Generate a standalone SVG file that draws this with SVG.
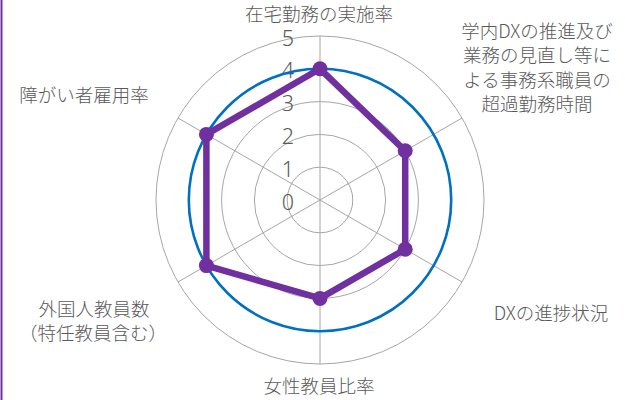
<svg xmlns="http://www.w3.org/2000/svg" width="625" height="400" viewBox="0 0 625 400">
<style>
.grid{fill:none;stroke:#A6A6A6;stroke-width:1}
.lbl{font-family:"Noto Sans CJK JP","Noto Sans",sans-serif;font-size:18.5px;font-weight:300;fill:#595959;text-anchor:middle}
.tick{font-family:"Noto Sans","Liberation Sans",sans-serif;font-size:21.5px;font-weight:300;fill:#595959;text-anchor:end}
</style>
<rect x="0" y="0" width="625" height="400" fill="#FFFFFF"/>
<line x1="1.5" y1="0" x2="1.5" y2="400" stroke="#7030A0" stroke-width="2"/>
<g id="grid">
<circle class="grid" cx="320" cy="200" r="32.8"/>
<circle class="grid" cx="320" cy="200" r="65.6"/>
<circle class="grid" cx="320" cy="200" r="98.4"/>
<circle class="grid" cx="320" cy="200" r="131.2"/>
<circle class="grid" cx="320" cy="200" r="164"/>
<line class="grid" x1="320" y1="200" x2="320" y2="36"/>
<line class="grid" x1="320" y1="200" x2="462" y2="118"/>
<line class="grid" x1="320" y1="200" x2="462" y2="282"/>
<line class="grid" x1="320" y1="200" x2="320" y2="364"/>
<line class="grid" x1="320" y1="200" x2="178" y2="282"/>
<line class="grid" x1="320" y1="200" x2="178" y2="118"/>
</g>
<g id="ticks">
<text class="tick" x="294" y="209.5">0</text>
<text class="tick" x="294" y="176.7">1</text>
<text class="tick" x="294" y="143.9">2</text>
<text class="tick" x="294" y="111.1">3</text>
<text class="tick" x="294" y="78.3">4</text>
<text class="tick" x="294" y="45.5">5</text>
</g>
<g id="target">
<circle cx="320" cy="200" r="131.2" fill="none" stroke="#0070C0" stroke-width="2.6"/>
</g>
<g id="connectors">
<polygon points="320,68.8 405.2,150.8 405.2,249.2 320,298.4 206.4,265.6 206.4,134.4" fill="none" stroke="#7030A0" stroke-width="6.5" stroke-linejoin="round"/>
</g>
<g id="markers" fill="#7030A0">
<circle id="p1" cx="320" cy="68.8" r="7.5"/>
<circle id="p2" cx="405.2" cy="150.8" r="7.5"/>
<circle id="p3" cx="405.2" cy="249.2" r="7.5"/>
<circle id="p4" cx="320" cy="298.4" r="7.5"/>
<circle id="p5" cx="206.4" cy="265.6" r="7.5"/>
<circle id="p6" cx="206.4" cy="134.4" r="7.5"/>
</g>
<g id="label-top"><text class="lbl" x="319" y="20.5">在宅勤務の実施率</text></g>
<g id="label-ur">
<text class="lbl" x="537" y="38">学内DXの推進及び</text>
<text class="lbl" x="537" y="62.3">業務の見直し等に</text>
<text class="lbl" x="537" y="86.6">よる事務系職員の</text>
<text class="lbl" x="537" y="110.9">超過勤務時間</text>
</g>
<g id="label-lr"><text class="lbl" x="551" y="319.8">DXの進捗状況</text></g>
<g id="label-b"><text class="lbl" x="319" y="393">女性教員比率</text></g>
<g id="label-ll">
<text class="lbl" x="94" y="315.8">外国人教員数</text>
<text class="lbl" x="93" y="339.5">（特任教員含む）</text>
</g>
<g id="label-ul"><text class="lbl" x="84" y="101.5">障がい者雇用率</text></g>
</svg>
